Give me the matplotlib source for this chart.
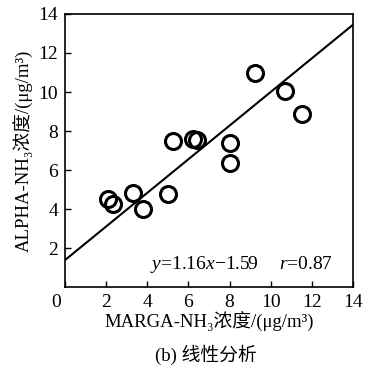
import numpy as np
import matplotlib
matplotlib.use("Agg")
import matplotlib.pyplot as plt
import matplotlib.transforms as mtransforms

plt.rcParams['font.family'] = ['Liberation Serif', 'Noto Sans CJK SC', 'DejaVu Serif']
plt.rcParams['mathtext.fontset'] = 'custom'
plt.rcParams['mathtext.rm'] = 'Liberation Serif'
plt.rcParams['mathtext.it'] = 'Liberation Serif:italic'

marga_nh3 = [2.11, 2.35, 3.32, 3.78, 4.99, 5.27, 6.24, 6.40, 8.02, 8.02, 9.24, 10.71, 11.51]
alpha_nh3 = [4.50, 4.26, 4.84, 4.00, 4.75, 7.47, 7.57, 7.54, 7.37, 6.36, 10.99, 10.07, 8.89]

# fitted line as drawn
line_slope = 0.862
line_intercept = 1.38
line_x = [0, 14]

x_ticks = [0, 2, 4, 6, 8, 10, 12, 14]
y_ticks = [2, 4, 6, 8, 10, 12, 14]

fig = plt.figure(figsize=(3.65, 3.68), dpi=100)
ax = fig.add_axes([0.178, 0.220, 0.789, 0.742])

lx = np.array(line_x)
ax.plot(lx, line_slope * lx + line_intercept, color='black', lw=1.5)
ax.plot(marga_nh3, alpha_nh3, linestyle='none', marker='o', markersize=11.5,
        markerfacecolor='none', markeredgecolor='black', markeredgewidth=2.2)

ax.set_xlim(0, 14)
ax.set_ylim(0, 14)
ax.set_xticks(x_ticks)
ax.set_yticks(y_ticks)
ax.tick_params(direction='in', length=4, width=1, labelsize=14, pad=5)
for sp in ax.spines.values():
    sp.set_linewidth(1.2)

# shift the "0" label left so it sits at the corner
lab0 = ax.get_xticklabels()[0]
lab0.set_transform(lab0.get_transform() + mtransforms.ScaledTranslation(-9 / 100, 0, fig.dpi_scale_trans))

ax.set_xlabel('MARGA-NH\u2083浓度/(μg/m³)', fontsize=13.5, labelpad=1)
ax.set_ylabel('ALPHA-NH\u2083浓度/(μg/m³)', fontsize=13.5, labelpad=3)

ax.text(6.8, 1.17, '$y$=1.16$x$\u22121.59', fontsize=14, ha='center', va='center')
ax.text(11.7, 1.17, '$r$=0.87', fontsize=14, ha='center', va='center')

fig.text(0.565, 0.035, '(b) 线性分析', fontsize=13.5, ha='center', va='center')

fig.savefig('out.png', dpi=100)
